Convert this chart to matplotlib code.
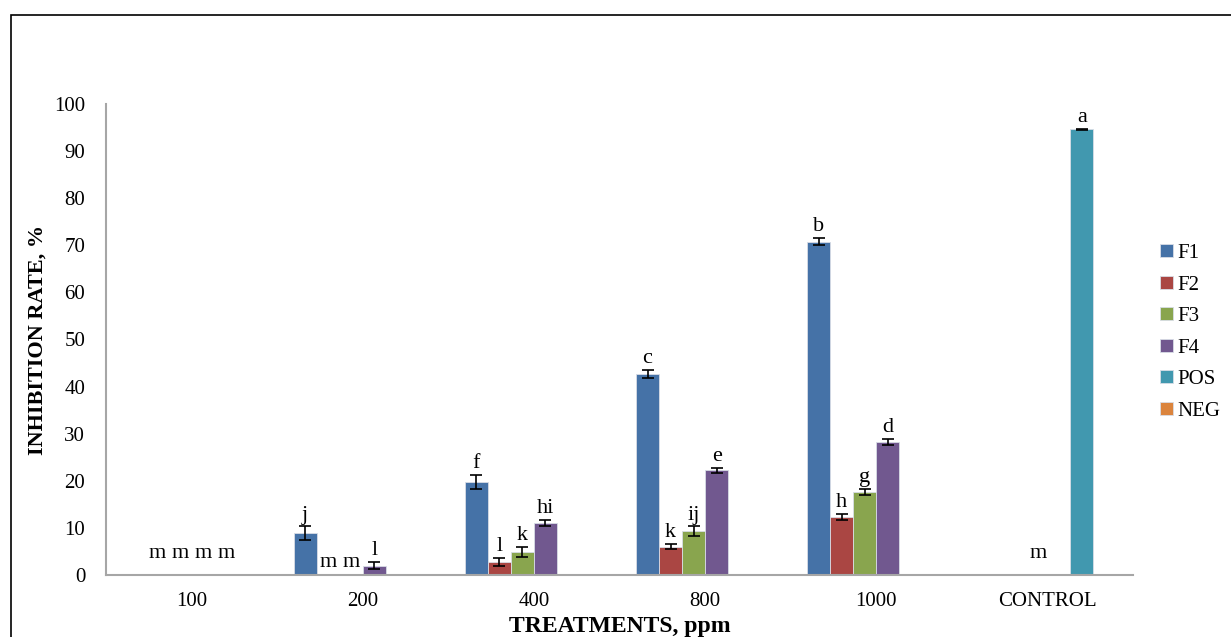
import numpy as np
import matplotlib
matplotlib.use("Agg")
import matplotlib.pyplot as plt
from matplotlib.patches import Rectangle

plt.rcParams["font.family"] = ["Liberation Serif", "DejaVu Serif"]

treatments = ["100", "200", "400", "800", "1000", "CONTROL"]
series = ["F1", "F2", "F3", "F4", "POS", "NEG"]
colors = ["#4572A7", "#AA4643", "#89A54E", "#71588F", "#4198AF", "#DB843D"]

# inhibition rate (%) per treatment, one list per series
F1 = [0.0, 8.9, 19.8, 42.7, 70.8, 0.0]
F2 = [0.0, 0.0, 2.8, 6.0, 12.3, 0.0]
F3 = [0.0, 0.0, 4.9, 9.3, 17.6, 0.0]
F4 = [0.0, 2.0, 11.0, 22.2, 28.2, 0.0]
POS = [np.nan, np.nan, np.nan, np.nan, np.nan, 94.6]
NEG = [np.nan, np.nan, np.nan, np.nan, np.nan, 0.0]

F1_err = [0.0, 1.4, 1.5, 0.8, 0.8, 0.0]
F2_err = [0.0, 0.0, 0.8, 0.5, 0.6, 0.0]
F3_err = [0.0, 0.0, 1.0, 1.0, 0.6, 0.0]
F4_err = [0.0, 0.7, 0.7, 0.5, 0.6, 0.0]
POS_err = [0, 0, 0, 0, 0, 0.1]
NEG_err = [0, 0, 0, 0, 0, 0]

# significance letters (Duncan grouping); empty string = no label
F1_lab = ["m", "j", "f", "c", "b", ""]
F2_lab = ["m", "m", "l", "k", "h", ""]
F3_lab = ["m", "m", "k", "ij", "g", ""]
F4_lab = ["m", "l", "hi", "e", "d", ""]
POS_lab = ["", "", "", "", "", "a"]
NEG_lab = ["", "", "", "", "", "m"]

values = [F1, F2, F3, F4, POS, NEG]
errors = [F1_err, F2_err, F3_err, F4_err, POS_err, NEG_err]
letters = [F1_lab, F2_lab, F3_lab, F4_lab, POS_lab, NEG_lab]

W, H = 1231, 637
fig = plt.figure(figsize=(W / 100, H / 100), dpi=100)
ax = fig.add_axes([106 / W, 1 - 575 / H, (1133 - 106) / W, (575 - 104) / H])

# frame around the chart area (only top and left edges fall inside the image)
fig.patches.append(Rectangle((11 / W, -0.1), 1.2, 1 - 15 / H + 0.1,
                             transform=fig.transFigure, fill=False,
                             edgecolor="black", linewidth=1.2))

x = np.arange(len(treatments))
w = 0.1345
for j, (name, vals, errs, labs) in enumerate(zip(series, values, errors, letters)):
    xs = x + (j - 2.5) * w
    vals = np.array(vals, float)
    errs = np.array(errs, float)
    ax.bar(xs, vals, width=w, color=colors[j], edgecolor="#D8DDE6",
           linewidth=0.6, label=name, zorder=2)
    mask = ~np.isnan(vals) & (errs > 0)
    ax.errorbar(xs[mask], vals[mask], yerr=errs[mask], fmt="none",
                ecolor="black", elinewidth=1.2, capsize=4, capthick=1.2, zorder=3)
    for i, lab in enumerate(labs):
        if not lab:
            continue
        top = np.nan_to_num(vals[i]) + errs[i]
        xi = xs[i]
        dy = 5
        if top == 0:
            dy = 12 if i != 1 else 6
            if i == 0:
                xi += w
            if i == len(treatments) - 1:
                xi -= 2.9 * w
        ax.annotate(lab, (xi, top), xytext=(0, dy), textcoords="offset points",
                    ha="center", va="baseline", fontsize=16, zorder=4)

ax.set_xlim(-0.5, len(treatments) - 0.5)
ax.set_ylim(0, 100)
ax.set_yticks(np.arange(0, 101, 10))
ax.set_xticks(x)
ax.set_xticklabels(treatments)
ax.tick_params(axis="both", length=0, labelsize=15)
ax.tick_params(axis="y", pad=15)
ax.tick_params(axis="x", pad=12)
for s in ["top", "right"]:
    ax.spines[s].set_visible(False)
for s in ["left", "bottom"]:
    ax.spines[s].set_color("#A6A6A6")
    ax.spines[s].set_linewidth(1.5)

ax.set_ylabel("INHIBITION RATE, %", fontsize=16, fontweight="bold", labelpad=5)
ax.set_xlabel("TREATMENTS, ppm", fontsize=17, fontweight="bold", labelpad=4)

leg = ax.legend(loc="upper left", bbox_to_anchor=(1160 / W, 1 - 244 / H),
                bbox_transform=fig.transFigure, frameon=False, fontsize=15,
                handlelength=0.6, handleheight=0.6, handletextpad=0.25,
                labelspacing=0.6, borderaxespad=0, borderpad=0)

fig.savefig("out.png", dpi=100)
